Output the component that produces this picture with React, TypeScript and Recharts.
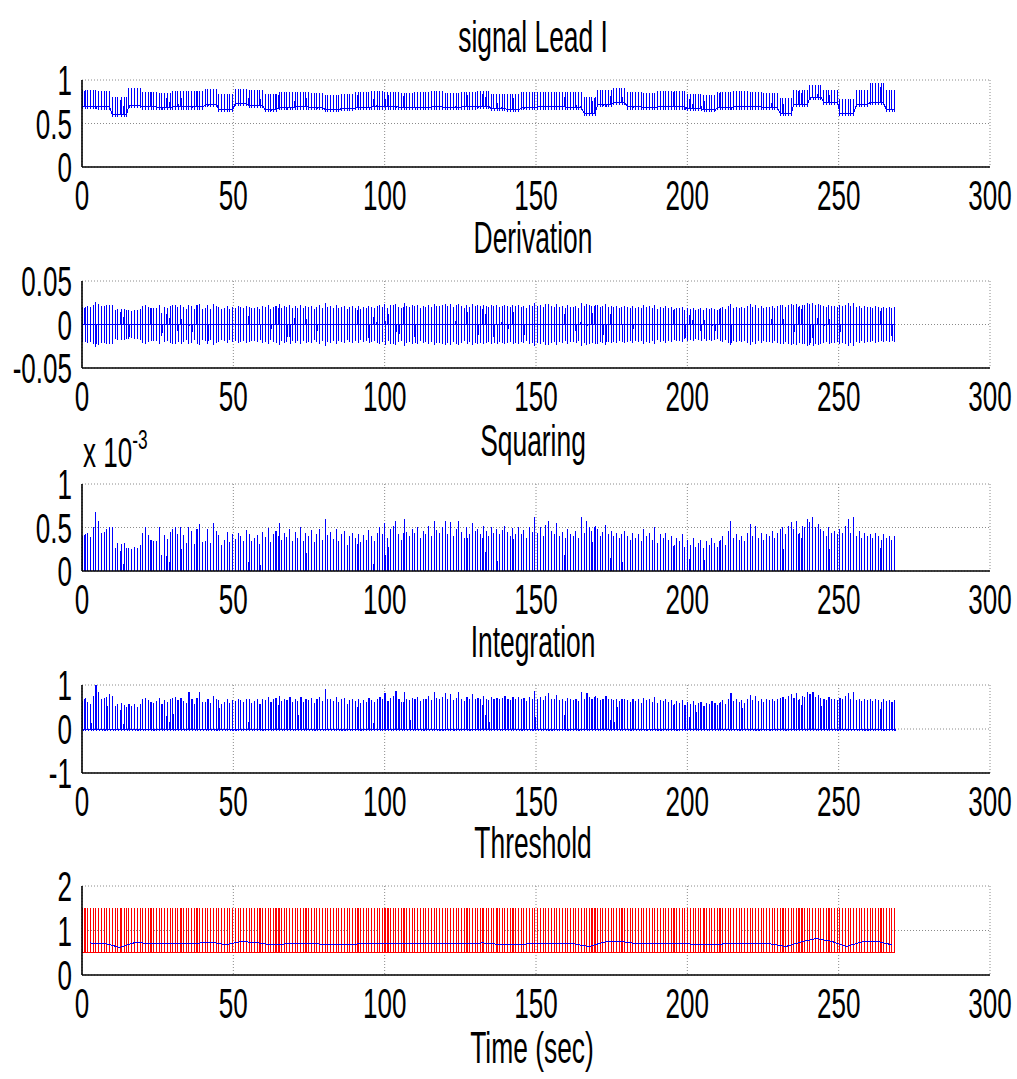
import React from 'react';
import { LineChart, Line, XAxis, YAxis, CartesianGrid } from 'recharts';

const beatTimes = [
  0.2, 1.0, 1.9, 2.9, 3.7, 4.6, 5.5, 6.5, 7.4, 8.2, 9.1,
  10.1, 11.0, 11.8, 12.9, 13.9, 14.7, 15.5, 16.4, 17.4, 18.3, 19.2,
  20.0, 20.9, 21.9, 22.8, 23.6, 24.5, 25.5, 26.4, 27.2, 28.1, 29.1,
  30.0, 30.8, 31.7, 32.7, 33.6, 34.4, 35.3, 36.3, 37.2, 38.0, 38.9, 39.9,
  40.8, 41.6, 42.5, 43.5, 44.4, 45.2, 46.1, 47.1, 48.0, 48.8, 49.7,
  50.7, 51.6, 52.4, 53.3, 54.3, 55.2, 56.0, 56.9, 57.9, 58.8, 59.6,
  60.5, 61.5, 62.4, 63.2, 64.1, 65.1, 66.0, 66.8, 67.7, 68.7, 69.6,
  70.4, 71.3, 72.3, 73.2, 74.0, 74.9, 75.9, 76.8, 77.6, 78.5, 79.5,
  80.4, 81.2, 82.1, 83.1, 84.0, 84.8, 85.7, 86.7, 87.6, 88.4, 89.3,
  90.3, 91.2, 92.0, 92.9, 93.9, 94.8, 95.6, 96.5, 97.5, 98.4, 99.2,
  100.1, 101.1, 102.0, 102.8, 103.7, 104.7, 105.6, 106.4, 107.3, 108.3, 109.2,
  110.0, 110.9, 111.9, 112.8, 113.6, 114.5, 115.5, 116.4, 117.2, 118.1, 119.1,
  120.0, 120.8, 121.7, 122.7, 123.6, 124.4, 125.3, 126.3, 127.2, 128.0, 128.9, 129.9,
  130.8, 131.6, 132.5, 133.5, 134.4, 135.2, 136.1, 137.1, 138.0, 138.8, 139.7,
  140.7, 141.6, 142.4, 143.3, 144.3, 145.2, 146.0, 146.9, 147.9, 148.8, 149.6,
  150.5, 151.5, 152.4, 153.2, 154.1, 155.1, 156.0, 156.8, 157.7, 158.7, 159.6,
  160.4, 161.3, 162.3, 163.2, 164.0, 164.9, 165.9, 166.8, 167.6, 168.5, 169.5,
  170.4, 171.2, 172.1, 173.1, 174.0, 174.8, 175.7, 176.7, 177.6, 178.4, 179.3,
  180.3, 181.2, 182.0, 182.9, 183.9, 184.8, 185.6, 186.5, 187.5, 188.4, 189.2,
  190.1, 191.1, 192.0, 192.8, 193.7, 194.7, 195.6, 196.4, 197.3, 198.3, 199.2,
  200.0, 200.9, 201.9, 202.8, 203.6, 204.5, 205.5, 206.4, 207.2, 208.1, 209.1,
  210.0, 210.8, 211.7, 212.7, 213.6, 214.4, 215.3, 216.3, 217.2, 218.0, 218.9, 219.9,
  220.8, 221.6, 222.5, 223.5, 224.4, 225.2, 226.1, 227.1, 228.0, 228.8, 229.7,
  230.7, 231.6, 232.4, 233.3, 234.3, 235.2, 236.0, 236.9, 237.9, 238.8, 239.6,
  240.5, 241.5, 242.4, 243.2, 244.1, 245.1, 246.0, 246.8, 247.7, 248.7, 249.6,
  250.4, 251.3, 252.3, 253.2, 254.0, 254.9, 255.9, 256.8, 257.6, 258.5, 259.5,
  260.4, 261.2, 262.1, 263.1, 264.0, 264.8, 265.7, 266.7, 267.6, 268.4,
];

// signal Lead I: baseline level per 5 s, spike height per 10 s
const leadBaseline = [
  0.70, 0.69, 0.60, 0.71, 0.69, 0.68, 0.69, 0.69, 0.72, 0.66,
  0.73, 0.71, 0.66, 0.68, 0.69, 0.68, 0.66, 0.67, 0.68, 0.69,
  0.69, 0.68, 0.68, 0.69, 0.68, 0.69, 0.70, 0.67, 0.66, 0.68,
  0.69, 0.69, 0.68, 0.62, 0.72, 0.74, 0.69, 0.68, 0.69, 0.69,
  0.67, 0.66, 0.68, 0.69, 0.69, 0.68, 0.62, 0.72, 0.80, 0.74,
  0.62, 0.72, 0.74, 0.66,
];
const leadSpike = [
  0.18, 0.2, 0.17, 0.18, 0.18, 0.17, 0.18, 0.17, 0.17, 0.18,
  0.17, 0.18, 0.17, 0.17, 0.18, 0.17, 0.18, 0.17, 0.17, 0.18,
  0.17, 0.18, 0.17, 0.17, 0.14, 0.16, 0.22,
];

// Squaring peaks per beat (x 10^-3)
const squarePeaks = [
  0.40, 0.42, 0.44, 0.39, 0.50, 0.68, 0.57, 0.44, 0.45, 0.48, 0.51,
  0.50, 0.27, 0.32, 0.31, 0.32, 0.26, 0.27, 0.25, 0.28, 0.26, 0.30,
  0.44, 0.51, 0.41, 0.36, 0.34, 0.35, 0.51, 0.18, 0.41, 0.37, 0.45,
  0.48, 0.51, 0.42, 0.50, 0.41, 0.32, 0.50, 0.46, 0.31, 0.48, 0.54, 0.33,
  0.35, 0.48, 0.32, 0.55, 0.46, 0.41, 0.30, 0.36, 0.45, 0.33, 0.42,
  0.37, 0.44, 0.40, 0.35, 0.47, 0.42, 0.34, 0.38, 0.41, 0.31, 0.45,
  0.39, 0.49, 0.33, 0.42, 0.46, 0.55, 0.36, 0.44, 0.39, 0.48, 0.34,
  0.45, 0.38, 0.50, 0.35, 0.44, 0.40, 0.47, 0.33, 0.42, 0.48, 0.36,
  0.60, 0.41, 0.45, 0.37, 0.48, 0.34, 0.42, 0.46, 0.30, 0.40, 0.44,
  0.38, 0.43, 0.33, 0.41, 0.36, 0.47, 0.40, 0.35, 0.44, 0.50, 0.42,
  0.55, 0.38, 0.48, 0.52, 0.58, 0.42, 0.36, 0.60, 0.45, 0.40, 0.48,
  0.44, 0.50, 0.38, 0.46, 0.42, 0.52, 0.40, 0.58, 0.47, 0.44, 0.50,
  0.57, 0.43, 0.56, 0.40, 0.48, 0.58, 0.45, 0.38, 0.50, 0.42, 0.55, 0.46,
  0.48, 0.43, 0.52, 0.46, 0.40, 0.50, 0.44, 0.48, 0.42, 0.47, 0.52,
  0.45, 0.40, 0.49, 0.43, 0.50, 0.42, 0.47, 0.38, 0.50, 0.45, 0.62,
  0.44, 0.50, 0.40, 0.53, 0.58, 0.46, 0.42, 0.55, 0.40, 0.45, 0.38,
  0.48, 0.42, 0.40, 0.46, 0.38, 0.62, 0.44, 0.58, 0.50, 0.46, 0.52,
  0.48, 0.40, 0.45, 0.53, 0.42, 0.46, 0.40, 0.44, 0.38, 0.42, 0.46,
  0.40, 0.36, 0.44, 0.38, 0.42, 0.34, 0.48, 0.40, 0.44, 0.36, 0.50,
  0.32, 0.42, 0.38, 0.44, 0.36, 0.40, 0.30, 0.38, 0.34, 0.42, 0.28,
  0.36, 0.30, 0.38, 0.28, 0.32, 0.36, 0.26, 0.34, 0.30, 0.38, 0.32,
  0.28, 0.36, 0.40, 0.30, 0.46, 0.58, 0.38, 0.42, 0.36, 0.40, 0.34, 0.44,
  0.54, 0.40, 0.52, 0.38, 0.44, 0.36, 0.42, 0.40, 0.46, 0.38, 0.44,
  0.48, 0.50, 0.42, 0.52, 0.56, 0.48, 0.58, 0.44, 0.52, 0.50, 0.60,
  0.56, 0.62, 0.50, 0.54, 0.48, 0.46, 0.40, 0.50, 0.44, 0.46, 0.42,
  0.48, 0.44, 0.52, 0.60, 0.44, 0.62, 0.40, 0.46, 0.38, 0.44, 0.40,
  0.42, 0.38, 0.44, 0.40, 0.36, 0.42, 0.38, 0.40, 0.36, 0.40,
];

// Integration peaks per beat
const integPeaks = [
  0.62, 0.70, 0.60, 0.55, 0.75, 1.00, 0.82, 0.68, 0.70, 0.72, 0.78,
  0.75, 0.52, 0.55, 0.57, 0.54, 0.50, 0.56, 0.52, 0.55, 0.50, 0.55,
  0.68, 0.70, 0.65, 0.60, 0.58, 0.62, 0.70, 0.56, 0.65, 0.60, 0.68,
  0.70, 0.72, 0.65, 0.70, 0.62, 0.58, 0.82, 0.66, 0.56, 0.70, 0.82, 0.60,
  0.60, 0.68, 0.58, 0.75, 0.68, 0.64, 0.56, 0.60, 0.68, 0.58, 0.64,
  0.62, 0.66, 0.64, 0.60, 0.68, 0.66, 0.58, 0.62, 0.66, 0.56, 0.68,
  0.64, 0.72, 0.60, 0.66, 0.70, 0.75, 0.62, 0.68, 0.64, 0.72, 0.60,
  0.68, 0.62, 0.72, 0.60, 0.68, 0.64, 0.70, 0.58, 0.66, 0.72, 0.62,
  0.90, 0.66, 0.68, 0.62, 0.72, 0.60, 0.66, 0.70, 0.56, 0.64, 0.68,
  0.62, 0.66, 0.58, 0.64, 0.60, 0.70, 0.64, 0.60, 0.68, 0.72, 0.66,
  0.80, 0.62, 0.70, 0.74, 0.86, 0.66, 0.60, 0.84, 0.68, 0.64, 0.70,
  0.68, 0.72, 0.62, 0.68, 0.66, 0.74, 0.64, 0.82, 0.70, 0.68, 0.72,
  0.80, 0.66, 0.78, 0.64, 0.70, 0.82, 0.68, 0.62, 0.72, 0.66, 0.78, 0.68,
  0.70, 0.66, 0.74, 0.68, 0.64, 0.72, 0.66, 0.70, 0.66, 0.70, 0.74,
  0.68, 0.64, 0.72, 0.66, 0.72, 0.66, 0.70, 0.62, 0.72, 0.68, 0.86,
  0.66, 0.72, 0.64, 0.74, 0.80, 0.68, 0.66, 0.76, 0.64, 0.68, 0.62,
  0.70, 0.66, 0.64, 0.68, 0.62, 0.84, 0.66, 0.80, 0.72, 0.68, 0.74,
  0.70, 0.64, 0.68, 0.74, 0.66, 0.68, 0.64, 0.66, 0.62, 0.66, 0.68,
  0.64, 0.60, 0.66, 0.62, 0.66, 0.58, 0.70, 0.64, 0.66, 0.60, 0.72,
  0.58, 0.64, 0.62, 0.66, 0.60, 0.64, 0.56, 0.62, 0.58, 0.64, 0.54,
  0.60, 0.56, 0.62, 0.54, 0.58, 0.60, 0.52, 0.58, 0.56, 0.62, 0.58,
  0.54, 0.60, 0.64, 0.56, 0.68, 0.80, 0.62, 0.66, 0.60, 0.64, 0.58, 0.66,
  0.76, 0.64, 0.74, 0.62, 0.66, 0.60, 0.66, 0.64, 0.68, 0.62, 0.66,
  0.70, 0.72, 0.66, 0.74, 0.78, 0.70, 0.80, 0.66, 0.74, 0.72, 0.82,
  0.78, 0.84, 0.72, 0.76, 0.70, 0.68, 0.64, 0.72, 0.66, 0.68, 0.64,
  0.70, 0.66, 0.74, 0.80, 0.66, 0.82, 0.64, 0.68, 0.62, 0.66, 0.64,
  0.66, 0.62, 0.66, 0.64, 0.60, 0.66, 0.62, 0.64, 0.60, 0.64,
];

// Threshold detection pulse levels
const thresholdLow = 0.5;
const thresholdHigh = 1.5;

const xTicks = [0, 50, 100, 150, 200, 250, 300];

type Pt = { t: number; v: number };

const pick = (arr: number[], t: number, span: number) =>
  arr[Math.min(arr.length - 1, Math.floor(t / span))];

const leadData: Pt[] = beatTimes.flatMap((t) => {
  const b = pick(leadBaseline, t, 5);
  const s = pick(leadSpike, t, 10);
  return [
    { t: t - 0.03, v: b },
    { t, v: b + s },
    { t: t + 0.03, v: b - 0.03 },
    { t: t + 0.06, v: b },
  ];
});

// derivation swing = square root of the squaring peak (squaring = derivative^2)
const derivData: Pt[] = beatTimes.flatMap((t, i) => {
  const a = Math.sqrt(squarePeaks[i] / 1000);
  return [
    { t: t - 0.03, v: 0 },
    { t, v: a },
    { t: t + 0.03, v: -a },
    { t: t + 0.06, v: 0 },
  ];
});

const squareData: Pt[] = beatTimes.flatMap((t, i) => [
  { t: t - 0.02, v: 0 },
  { t, v: squarePeaks[i] },
  { t: t + 0.02, v: 0 },
]);

const integData: Pt[] = beatTimes.flatMap((t, i) => [
  { t: t - 0.02, v: 0 },
  { t, v: integPeaks[i] },
  { t: t + 0.06, v: integPeaks[i] },
  { t: t + 0.08, v: 0 },
  { t: t + 0.2, v: -0.04 },
  { t: t + 0.3, v: 0 },
]);

const pulseData: Pt[] = beatTimes.flatMap((t) => [
  { t: t - 0.015, v: thresholdLow },
  { t: t - 0.015, v: thresholdHigh },
  { t: t + 0.015, v: thresholdHigh },
  { t: t + 0.015, v: thresholdLow },
]);

const thresholdSignal: Pt[] = leadBaseline.map((v, i) => ({ t: i * 5 + 2.5, v: v + 0.02 }));

const FONT = '"Liberation Sans", Arial, sans-serif';
const W = 1017;
const PLOT_LEFT = 82;
const PLOT_RIGHT = 990;
const M_TOP = 30;
const X_AXIS_H = 62;
const TICK_FS = 42;
const TICK_SX = 0.62;

const XTick = (props: any) => {
  const { x, y, payload } = props;
  return (
    <g transform={`translate(${x},${y + 43})`}>
      <text transform={`scale(${TICK_SX},1)`} textAnchor="middle" fontSize={TICK_FS} fontFamily={FONT} fill="#000">
        {payload.value}
      </text>
    </g>
  );
};

const YTick = (props: any) => {
  const { x, y, payload } = props;
  return (
    <g transform={`translate(${x - 10},${y + 15})`}>
      <text transform={`scale(${TICK_SX},1)`} textAnchor="end" fontSize={TICK_FS} fontFamily={FONT} fill="#000">
        {payload.value}
      </text>
    </g>
  );
};

type Series = { data: Pt[]; color: string };

type PanelProps = {
  top: number;
  height: number;
  domain: [number, number];
  ticks: number[];
  series: Series[];
};

const Panel = ({ top, height, domain, ticks, series }: PanelProps) => (
  <div style={{ position: 'absolute', left: 0, top: top - M_TOP }}>
    <LineChart
      width={W}
      height={M_TOP + height + X_AXIS_H}
      margin={{ top: M_TOP, right: W - PLOT_RIGHT, bottom: 0, left: 0 }}
    >
      <CartesianGrid stroke="#8a8a8a" strokeDasharray="1 2" />
      <XAxis
        type="number"
        dataKey="t"
        domain={[0, 300]}
        ticks={xTicks}
        interval={0}
        allowDataOverflow
        height={X_AXIS_H}
        tickSize={0}
        tickMargin={0}
        tickLine={false}
        tick={<XTick />}
        axisLine={{ stroke: '#000', strokeWidth: 1.6 }}
      />
      <YAxis
        type="number"
        domain={domain}
        ticks={ticks}
        interval={0}
        allowDataOverflow
        width={PLOT_LEFT}
        tickSize={0}
        tickMargin={0}
        tickLine={false}
        tick={<YTick />}
        axisLine={{ stroke: '#000', strokeWidth: 1.6 }}
      />
      {series.map((s, i) => (
        <Line
          key={i}
          data={s.data}
          dataKey="v"
          type="linear"
          stroke={s.color}
          strokeWidth={1}
          dot={false}
          isAnimationActive={false}
        />
      ))}
    </LineChart>
  </div>
);

const BLUE = '#0000ff';
const RED = '#ff0000';

const panels: (PanelProps & { title: string })[] = [
  { title: 'signal Lead I', top: 80, height: 87, domain: [0, 1], ticks: [0, 0.5, 1], series: [{ data: leadData, color: BLUE }] },
  { title: 'Derivation', top: 281, height: 87, domain: [-0.05, 0.05], ticks: [-0.05, 0, 0.05], series: [{ data: derivData, color: BLUE }] },
  { title: 'Squaring', top: 484, height: 87, domain: [0, 1], ticks: [0, 0.5, 1], series: [{ data: squareData, color: BLUE }] },
  { title: 'Integration', top: 685, height: 88, domain: [-1, 1], ticks: [-1, 0, 1], series: [{ data: integData, color: BLUE }] },
  {
    title: 'Threshold',
    top: 886,
    height: 89,
    domain: [0, 2],
    ticks: [0, 1, 2],
    series: [
      { data: pulseData, color: RED },
      { data: thresholdSignal, color: BLUE },
    ],
  },
];

export default function App() {
  const cx = (PLOT_LEFT + PLOT_RIGHT) / 2;
  return (
    <div style={{ position: 'absolute', left: 0, top: 0, width: W, height: 1079, background: '#fff' }}>
      <style>{'.recharts-line path { shape-rendering: crispEdges; }'}</style>
      {panels.map((p) => (
        <Panel key={p.title} {...p} />
      ))}
      <svg width={W} height={1079} style={{ position: 'absolute', left: 0, top: 0, pointerEvents: 'none' }}>
        {panels.map((p) => (
          <g key={p.title} transform={`translate(${cx - 3},${p.top - 28})`}>
            <text transform="scale(0.6,1)" textAnchor="middle" fontSize={44} fontFamily={FONT} fill="#000">
              {p.title}
            </text>
          </g>
        ))}
        <g transform="translate(83,467)">
          <text transform="scale(0.62,1)" fontSize={42} fontFamily={FONT} fill="#000">
            x 10
            <tspan fontSize={28} dy={-18}>-3</tspan>
          </text>
        </g>
        <g transform={`translate(${cx - 4},1063)`}>
          <text transform="scale(0.6,1)" textAnchor="middle" fontSize={44} fontFamily={FONT} fill="#000">
            Time (sec)
          </text>
        </g>
      </svg>
    </div>
  );
}
